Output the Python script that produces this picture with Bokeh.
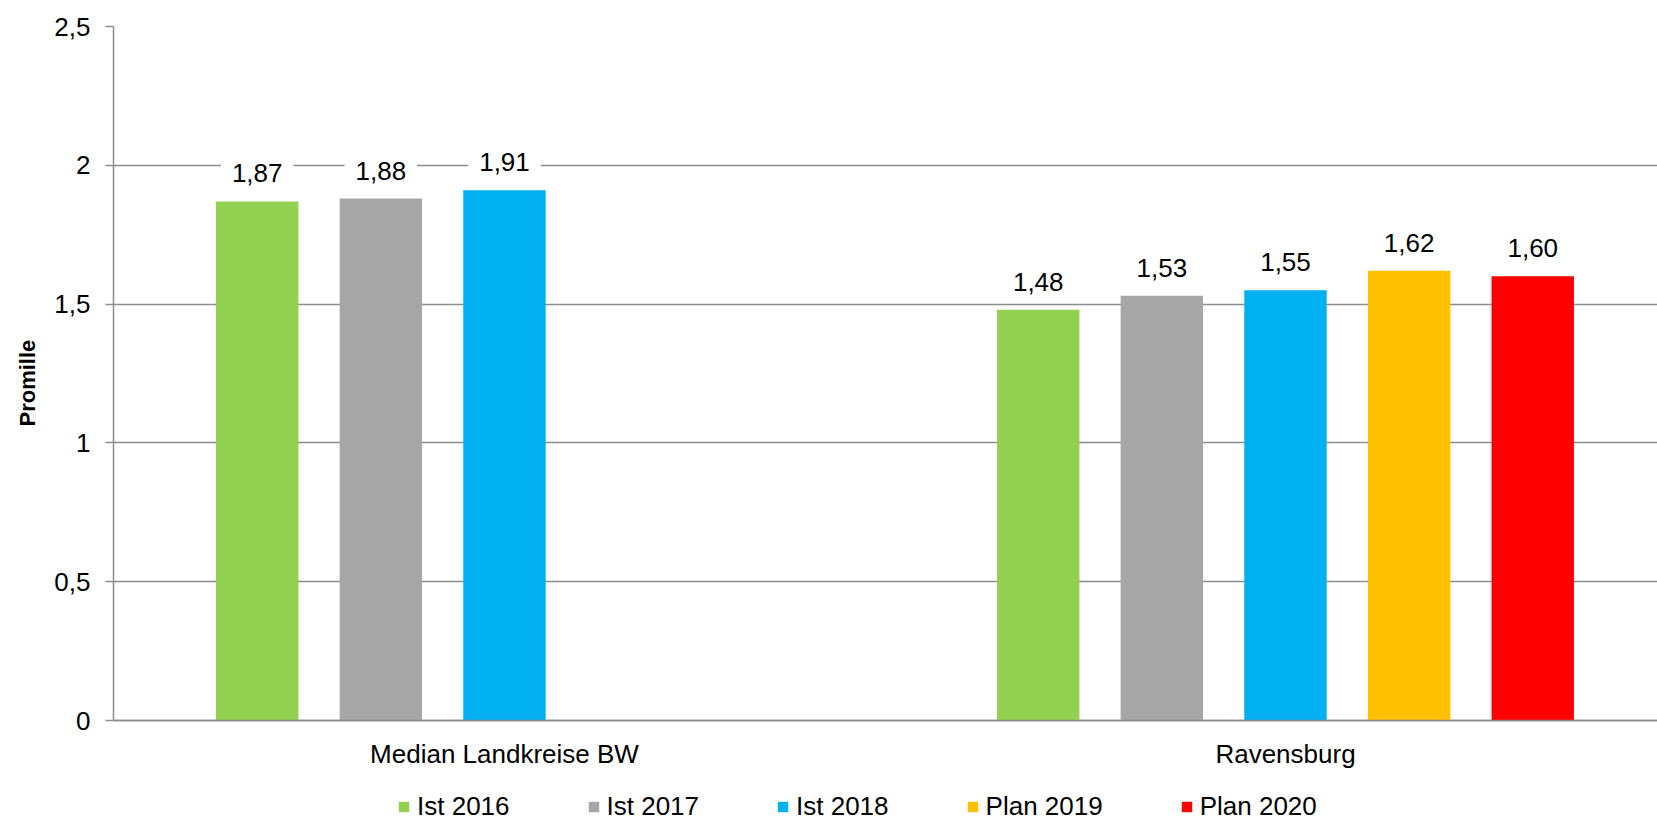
from bokeh.plotting import figure
from bokeh.models import (ColumnDataSource, Range1d, FixedTicker, CustomJSTickFormatter,
                          Legend, LegendItem, Span, Title)
from bokeh.transform import dodge
from bokeh.core.properties import value
from bokeh.embed import file_html
from bokeh.resources import INLINE

# ---- data ----
categories = ["Median Landkreise BW", "Ravensburg"]
series_names = ["Ist 2016", "Ist 2017", "Ist 2018", "Plan 2019", "Plan 2020"]
ist_2016 = [1.87, 1.48]
ist_2017 = [1.88, 1.53]
ist_2018 = [1.91, 1.55]
plan_2019 = [None, 1.62]
plan_2020 = [None, 1.60]
series_values = [ist_2016, ist_2017, ist_2018, plan_2019, plan_2020]
colors = ["#92D050", "#A6A6A6", "#00B0F0", "#FFC000", "#FF0000"]
y_ticks = [0, 0.5, 1, 1.5, 2, 2.5]
y_title = "Promille"

FONT = "Liberation Sans"
FS = "26px"
GRID = "#8C8C8C"

p = figure(frame_width=1545, frame_height=796,
           min_border_left=112, min_border_right=0, min_border_top=26, min_border_bottom=0,
           x_range=Range1d(-0.5006, 1.4776), y_range=Range1d(-0.3674, 2.5),
           x_axis_location=None,
           output_backend="svg", toolbar_location=None)
p.outline_line_color = None
p.background_fill_color = "white"
p.border_fill_color = "white"

offsets = [-0.3166, -0.1583, 0.0, 0.1583, 0.3166]
bar_w = 0.1055

legend_items = []
for name, vals, col, off in zip(series_names, series_values, colors, offsets):
    xs = [i for i, v in enumerate(vals) if v is not None]
    ys = [v for v in vals if v is not None]
    txt = [f"{v:.2f}".replace(".", ",") for v in ys]
    src = ColumnDataSource(dict(x=xs, top=ys, label=txt))
    r = p.vbar(x=dodge("x", off), top="top", width=bar_w, bottom=0, source=src,
               fill_color=col, line_color=None)
    legend_items.append(LegendItem(label=name, renderers=[r]))
    p.text(x=dodge("x", off), y="top", text="label", source=src,
           text_align="center", text_baseline="alphabetic", y_offset=-28,
           text_font=value(FONT), text_font_size=value(FS),
           text_color="black", background_fill_color="white", padding=11)

# zero line (category axis line)
p.add_layout(Span(location=0, dimension="width", line_color=GRID, line_width=1.5))

# category labels
cat_src = ColumnDataSource(dict(x=list(range(len(categories))), y=[0] * len(categories),
                                label=categories))
p.text(x="x", y="y", text="label", source=cat_src, text_align="center",
       text_baseline="top", y_offset=18, text_font=value(FONT),
       text_font_size=value(FS), text_color="black")

# y axis
yax = p.yaxis[0]
yax.bounds = (0, 2.5)
yax.ticker = FixedTicker(ticks=y_ticks)
yax.formatter = CustomJSTickFormatter(code="return String(tick).replace('.', ',');")
yax.axis_line_color = GRID
yax.axis_line_width = 1.5
yax.major_tick_line_color = GRID
yax.major_tick_line_width = 1.5
yax.major_tick_out = 8
yax.major_tick_in = 0
yax.minor_tick_line_color = None
yax.major_label_standoff = 15
yax.major_label_text_font = FONT
yax.major_label_text_font_size = FS
yax.major_label_text_color = "black"

# y axis title, placed alongside the 0..2.5 span
p.add_layout(Title(text=y_title, align="left", offset=396, standoff=24,
                   text_font=FONT, text_font_size="22px", text_font_style="bold",
                   text_color="black"), "left")

# grid
p.xgrid.grid_line_color = None
p.ygrid.ticker = FixedTicker(ticks=y_ticks)
p.ygrid.grid_line_color = GRID
p.ygrid.grid_line_width = 1.5

legend = Legend(items=legend_items, orientation="horizontal", location=(284, 0),
                glyph_width=13, glyph_height=13, label_standoff=7, spacing=77,
                padding=0, margin=0, border_line_color=None, background_fill_alpha=0,
                label_text_font=FONT, label_text_font_size=FS, label_text_color="black")
p.add_layout(legend)

open("out.html", "w").write(file_html(p, INLINE))
